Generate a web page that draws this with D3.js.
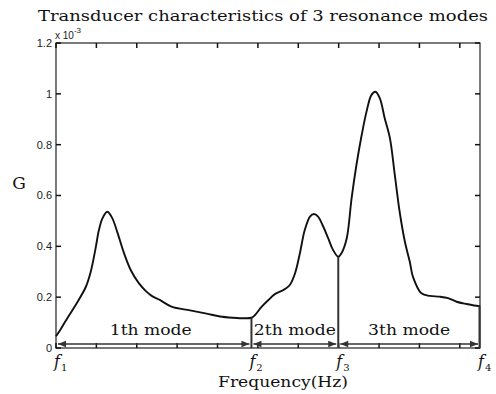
<!DOCTYPE html>
<html>
<head>
<meta charset="utf-8">
<script src="https://cdn.jsdelivr.net/npm/d3@7"></script>
<style>
  html, body { margin: 0; padding: 0; background: #fff; }
  svg { display: block; }
</style>
</head>
<body>
<svg id="chart" width="496" height="394"></svg>
<script>
// ---- data (frequency in axis-tick units, G in units of 1e-3) ----
const freq = [0.00, 0.12, 0.28, 0.49, 0.74, 0.86, 0.98, 1.06, 1.15, 1.27, 1.39, 1.52, 1.68, 1.85, 2.05, 2.22, 2.38, 2.57, 2.86, 3.32, 3.73, 4.06, 4.39, 4.68, 4.84,
              4.93, 5.09, 5.26, 5.42, 5.63, 5.79, 5.92, 6.04, 6.16, 6.29, 6.39, 6.49, 6.62, 6.74, 6.86, 6.99,
              7.07, 7.20, 7.32, 7.44, 7.57, 7.69, 7.81, 7.91, 8.02, 8.14, 8.27, 8.39, 8.51, 8.64, 8.76, 8.84, 9.05, 9.26, 9.50, 9.71, 9.92, 10.17, 10.45, 10.50];
const G    = [0.046, 0.075, 0.117, 0.170, 0.241, 0.300, 0.392, 0.462, 0.510, 0.536, 0.512, 0.455, 0.375, 0.307, 0.255, 0.225, 0.204, 0.189, 0.163, 0.148, 0.135, 0.124, 0.119, 0.117, 0.119,
              0.130, 0.162, 0.189, 0.212, 0.228, 0.248, 0.294, 0.373, 0.464, 0.517, 0.527, 0.517, 0.477, 0.432, 0.386, 0.359,
              0.373, 0.432, 0.589, 0.720, 0.838, 0.930, 0.995, 1.008, 0.982, 0.904, 0.825, 0.681, 0.536, 0.418, 0.340, 0.280, 0.215, 0.205, 0.202, 0.196, 0.182, 0.173, 0.165, 0.165];
const fMarks  = [0, 4.84, 6.99, 10.5];
const fLabels = ["1", "2", "3", "4"];
const modeLabels = ["1th mode", "2th mode", "3th mode"];
const yTicks = [0, 0.2, 0.4, 0.6, 0.8, 1, 1.2];
const xTicks = [0, 1, 2, 3, 4, 5, 6, 7, 8, 9, 10];
const titleText = "Transducer characteristics of 3 resonance modes";
const xLabel = "Frequency(Hz)";
const yLabel = "G";

// ---- layout ----
const svg = d3.select("#chart");
const L = 56, R = 480, T = 43, B = 348;
const x = d3.scaleLinear().domain([0, 10.5]).range([L, R]);
const y = d3.scaleLinear().domain([0, 1.2]).range([B, T]);
const axisColor = "#222";
const serif = "'DejaVu Serif', 'Liberation Serif', serif";
const sans = "'Liberation Sans', Arial, sans-serif";
const TK = 5;

svg.append("rect").attr("width", 496).attr("height", 394).attr("fill", "#fff");

// frame
svg.append("rect").attr("x", L).attr("y", T).attr("width", R - L).attr("height", B - T)
  .attr("fill", "none").attr("stroke", axisColor).attr("stroke-width", 1.2);

// inward ticks (MATLAB style)
const tg = svg.append("g").attr("stroke", "#111").attr("stroke-width", 1.5);
tg.selectAll("line.xb").data(xTicks).join("line").attr("class", "xb")
  .attr("x1", d => x(d)).attr("x2", d => x(d)).attr("y1", B).attr("y2", B - TK);
tg.selectAll("line.xt").data(xTicks).join("line").attr("class", "xt")
  .attr("x1", d => x(d)).attr("x2", d => x(d)).attr("y1", T).attr("y2", T + TK);
tg.selectAll("line.yl").data(yTicks).join("line").attr("class", "yl")
  .attr("x1", L).attr("x2", L + TK).attr("y1", d => y(d)).attr("y2", d => y(d));
tg.selectAll("line.yr").data(yTicks).join("line").attr("class", "yr")
  .attr("x1", R).attr("x2", R - TK).attr("y1", d => y(d)).attr("y2", d => y(d));

// y tick labels
svg.append("g").selectAll("text").data(yTicks).join("text")
  .attr("x", L - 4).attr("y", d => y(d)).attr("dy", "0.35em")
  .attr("text-anchor", "end")
  .attr("font-family", sans).attr("font-size", 11).attr("fill", "#222")
  .text(d => d3.format("~g")(d));

// exponent label
const ex = svg.append("text").attr("x", 55).attr("y", 39)
  .attr("font-family", sans).attr("font-size", 10).attr("fill", "#222");
ex.append("tspan").text("x 10");
ex.append("tspan").attr("dy", -6).attr("font-size", 8).text("-3");

// curve
const pts = freq.map((f, i) => [f, G[i]]);
svg.append("path").datum(pts)
  .attr("fill", "none").attr("stroke", "#111").attr("stroke-width", 1.9)
  .attr("stroke-linejoin", "round")
  .attr("d", d3.line().x(d => x(d[0])).y(d => y(d[1])).curve(d3.curveCatmullRom.alpha(0.5)));

// vertical lines at f2..f4
const interp = f => {
  const i = d3.bisectLeft(freq, f);
  if (i <= 0) return G[0];
  if (i >= freq.length) return G[G.length - 1];
  const t = (f - freq[i - 1]) / (freq[i] - freq[i - 1] || 1);
  return G[i - 1] + t * (G[i] - G[i - 1]);
};
svg.append("g").selectAll("line").data(fMarks.slice(1)).join("line")
  .attr("x1", d => Math.min(x(d), R - 0.5)).attr("x2", d => Math.min(x(d), R - 0.5))
  .attr("y1", d => y(interp(d))).attr("y2", y(0))
  .attr("stroke", "#333").attr("stroke-width", 2);

// arrows
const defs = svg.append("defs");
["start", "end"].forEach(k => {
  defs.append("marker").attr("id", "arr-" + k)
    .attr("markerUnits", "userSpaceOnUse").attr("markerWidth", 10).attr("markerHeight", 8)
    .attr("viewBox", "0 -4 10 8").attr("refX", k === "end" ? 9 : 1).attr("refY", 0)
    .attr("orient", "auto")
    .append("path")
    .attr("d", k === "end" ? "M1,-3.2L9,0L1,3.2Z" : "M9,-3.2L1,0L9,3.2Z")
    .attr("fill", "#333");
});
const arrowY = 344;
const segs = d3.pairs(fMarks);
svg.append("g").selectAll("line").data(segs).join("line")
  .attr("x1", d => x(d[0]) + 2).attr("x2", d => x(d[1]) - 2)
  .attr("y1", arrowY).attr("y2", arrowY)
  .attr("stroke", "#333").attr("stroke-width", 1.5)
  .attr("marker-start", "url(#arr-start)").attr("marker-end", "url(#arr-end)");

// mode labels
svg.append("g").selectAll("text").data(segs).join("text")
  .attr("x", (d, i) => i === 0 ? (x(d[0]) + x(d[1])) / 2 - 3 : (x(d[0]) + x(d[1])) / 2)
  .attr("y", 335)
  .attr("text-anchor", "middle")
  .attr("font-family", serif).attr("font-size", 15).attr("fill", "#111")
  .attr("textLength", 82).attr("lengthAdjust", "spacingAndGlyphs")
  .text((d, i) => modeLabels[i]);

// f labels
const fl = svg.append("g").selectAll("text").data(fMarks).join("text")
  .attr("x", d => x(d) - 2).attr("y", 367)
  .attr("font-family", serif).attr("fill", "#111");
fl.append("tspan").attr("font-style", "italic").attr("font-size", 16).text("f");
fl.append("tspan").attr("font-size", 10).attr("dx", 1).attr("dy", 4).text((d, i) => fLabels[i]);

// title and axis labels
svg.append("text").attr("x", 263).attr("y", 21).attr("text-anchor", "middle")
  .attr("font-family", serif).attr("font-size", 15).attr("fill", "#111")
  .attr("textLength", 450).attr("lengthAdjust", "spacingAndGlyphs")
  .text(titleText);
svg.append("text").attr("x", 283).attr("y", 387).attr("text-anchor", "middle")
  .attr("font-family", serif).attr("font-size", 15).attr("fill", "#111")
  .attr("textLength", 130).attr("lengthAdjust", "spacingAndGlyphs")
  .text(xLabel);
svg.append("text").attr("x", 19).attr("y", 189).attr("text-anchor", "middle")
  .attr("font-family", serif).attr("font-size", 17).attr("fill", "#111")
  .text(yLabel);
</script>
</body>
</html>
